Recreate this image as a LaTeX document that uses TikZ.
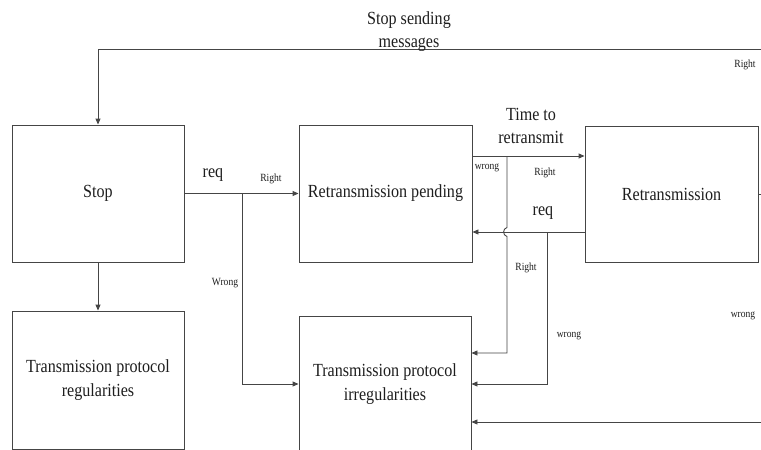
\documentclass[tikz,border=0pt]{standalone}
\usepackage{fontspec}
\setmainfont[FakeStretch=0.87]{Liberation Serif}
\usetikzlibrary{arrows.meta}
\definecolor{linegray}{HTML}{454545}
\definecolor{inkgray}{HTML}{1E1E1E}
\tikzset{
  statebox/.style={draw=linegray, line width=0.9pt, text=inkgray, align=center,
    inner sep=0pt, font=\fontsize{18.5}{23.5}\selectfont},
  flow/.style={draw=linegray, line width=0.9pt, -{Triangle[length=6pt,width=5pt]}},
  plainline/.style={draw=linegray, line width=0.9pt},
  biglabel/.style={text=inkgray, align=center, inner sep=0pt, font=\fontsize{18.5}{22.5}\selectfont},
  smalllabel/.style={text=inkgray, inner sep=0pt, font=\fontsize{11}{13}\selectfont}
}
\begin{document}
\begin{tikzpicture}[x=1pt,y=-1pt]
\useasboundingbox (0,0) rectangle (761,450);
\clip (0,0) rectangle (761,450);
\fill[white] (0,0) rectangle (761,450);

% states
\node[statebox, minimum width=172pt, minimum height=137pt] (stop) at (98,193.5) {Stop};
\node[statebox, minimum width=172pt, minimum height=138pt] (reg) at (98,380) {Transmission protocol\\regularities};
\node[statebox, minimum width=173pt, minimum height=137pt] (pend) at (385.5,193.5) {Retransmission pending};
\node[statebox, minimum width=173pt, minimum height=136pt] (retx) at (671.5,194) {Retransmission};
\node[statebox, minimum width=172pt, minimum height=136pt] (irr) at (385,384) {Transmission protocol\\irregularities};

% junction points
\coordinate (j1) at (242,193.5);
\coordinate (j2) at (507,156);
\coordinate (j3) at (547,232);
\coordinate (far) at (775,194);

% Stop -> Retransmission pending / irregularities
\draw[flow] (stop.east) -- (pend.west);
\draw[flow] (j1) |- (irr.west);
\draw[flow] (stop.south) -- (reg.north);

% Retransmission pending <-> Retransmission
\draw[flow] ([yshift=37.5pt]pend.east) -- ([yshift=38pt]retx.west);
\draw[flow] ([yshift=-38pt]retx.west) -- ([yshift=-38.5pt]pend.east);

% wrong branch, jumping over the req line
\draw[flow] (j2) -- (507,227.5) .. controls (502.5,228.5) and (502.5,235.5) .. (507,236.5)
  |- ([yshift=31pt]irr.east);
\draw[flow] (j3) |- (irr.east);

% Retransmission outcomes
\draw[plainline] (retx.east) -- (far);
\draw[flow] (far) |- (98,49) -- (stop.north);
\draw[flow] (far) |- ([yshift=-38pt]irr.east);

% labels
\node[biglabel] (lstop) at (409,31.5) {Stop sending\\messages};
\node[biglabel] (ltime) at (531,126) {Time to\\retransmit};
\node[biglabel] (lreq1) at (213,175) {req};
\node[biglabel] (lreq2) at (543,213) {req};
\node[smalllabel] (lr1) at (745,65) {Right};
\node[smalllabel] (lr2) at (271,179) {Right};
\node[smalllabel] (lw1) at (225,283) {Wrong};
\node[smalllabel] (lw2) at (487,168) {wrong};
\node[smalllabel] (lr3) at (545,173) {Right};
\node[smalllabel] (lr4) at (526,268) {Right};
\node[smalllabel] (lw3) at (569,336) {wrong};
\node[smalllabel] (lw4) at (743,316) {wrong};
\end{tikzpicture}
\end{document}
